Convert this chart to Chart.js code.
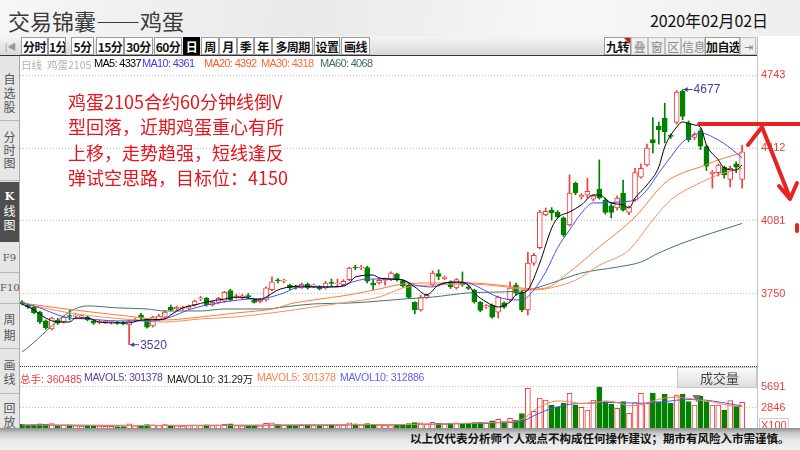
<!DOCTYPE html>
<html lang="zh">
<head>
<meta charset="UTF-8">
<title>交易锦囊——鸡蛋</title>
<script src="https://cdn.jsdelivr.net/npm/chart.js"></script>
<style>
  body {
    margin: 0; width: 800px; height: 450px; overflow: hidden; position: relative;
    font-family: "Liberation Sans", Arial, "Noto Sans CJK SC", sans-serif;
    background: linear-gradient(100deg, #f6f6f6 0%, #e9e9e9 35%, #f7f7f7 65%, #ebebeb 100%);
  }
  .abs { position: absolute; }
  #title { left: 8px; top: 4px; font: 22px "Noto Sans CJK SC", sans-serif; color: #3a3a3a; letter-spacing: 0px; }
  #date { left: 650px; top: 8px; font: 16px "Noto Sans CJK SC", sans-serif; color: #111; letter-spacing: -0.1px; }
  #toolbar { left: 0; top: 36px; width: 757px; height: 19px; background: linear-gradient(#f5f5f5, #d9d9d9); border-bottom: 1px solid #333; }
  .bt {
    position: absolute; top: 37px; height: 16px; line-height: 16px; background: #fff; box-sizing: content-box;
    border: 1px solid #9a9a9a; font: bold 12px "Noto Sans CJK SC", sans-serif; color: #111;
    text-align: center; letter-spacing: -0.6px; white-space: nowrap; overflow: hidden;
  }
  .bt.on { background: #000; color: #fff; border-color: #000; }
  .bt.dim { color: #8a8a8a; font-weight: normal; background: #f0f0f0; border-color: #c0c0c0; }
  #panel { left: 20px; top: 56px; width: 780px; height: 372px; background: #fff; }
  #axisLine { left: 757px; top: 36px; width: 1px; height: 392px; background: #c4c4c4; }
  #rightTop { left: 758px; top: 36px; width: 42px; height: 20px; background: #fff; }
  #side { left: 0; top: 56px; width: 19px; height: 372px; background: #e6e6e6; border-right: 1px solid #a8a8a8; }
  .sd { position: absolute; left: 0; width: 19px; text-align: center; font: 12px "Noto Sans CJK SC", sans-serif; line-height: 14px; color: #555; }
  .sl { position: absolute; left: 0; width: 19px; height: 1px; background: #b8b8b8; }
  canvas { position: absolute; }
  #priceChart { left: 20px; top: 58px; }
  #volChart { left: 20px; top: 380px; }
  .hd { position: absolute; font-size: 10.5px; white-space: nowrap; }
  .ma { font-size: 11px; letter-spacing: -0.7px; top: 57px; }
  #note { left: 68px; top: 89px; font: 18px "Noto Sans CJK SC", sans-serif; line-height: 25.3px; color: #e8141c; }
  #sep { left: 20px; top: 366px; width: 737px; border-top: 1px dotted #333; }
  #volBtn {
    left: 677px; top: 367px; width: 78px; height: 19px; border: 1px solid #c8c8c8;
    background: linear-gradient(#fbfbfb, #dedede); font: 13px "Noto Sans CJK SC", sans-serif; color: #444; line-height: 19px;
  }
  #x100 { left: 759px; top: 418px; font-size: 11px; color: #e8403c; border: 1px solid #d0d0d0; padding: 0 1px; line-height: 12px; }
  #foot { left: 0; top: 428px; width: 800px; height: 22px; background: linear-gradient(#8f8f8f 0px, #c9c9c9 5px, #e6e6e6 12px, #f2f2f2 22px); }
  #disclaimer { left: 410px; top: 430px; font: bold 11.5px "Noto Sans CJK SC", sans-serif; color: #111; white-space: nowrap; }
</style>
</head>
<body>
<div id="title" class="abs">交易锦囊——鸡蛋</div>
<div id="date" class="abs">2020年02月02日</div>

<div id="toolbar" class="abs"></div>
<div class="abs" style="left:5px;top:40px;font-size:9px;color:#999;">|◀</div>
<div class="bt" style="left:21px;width:25px;">分时</div>
<div class="bt" style="left:48px;width:16px;">1分</div>
<div class="bt" style="left:71px;width:21px;">5分</div>
<div class="bt" style="left:96px;width:26px;">15分</div>
<div class="bt" style="left:124px;width:27px;">30分</div>
<div class="bt" style="left:154px;width:26px;">60分</div>
<div class="bt on" style="left:183px;width:15px;">日</div>
<div class="bt" style="left:201px;width:16px;">周</div>
<div class="bt" style="left:219px;width:16px;">月</div>
<div class="bt" style="left:237px;width:15px;">季</div>
<div class="bt" style="left:254px;width:16px;">年</div>
<div class="bt" style="left:272px;width:39px;">多周期</div>
<div class="bt" style="left:314px;width:24px;">设置</div>
<div class="bt" style="left:341px;width:27px;">画线</div>

<div class="bt" style="left:604px;width:25px;">九转<i style="position:absolute;right:0;top:0;border-top:6px solid #e01010;border-left:6px solid transparent;"></i></div>
<div class="bt dim" style="left:631px;width:15px;">叠</div>
<div class="bt dim" style="left:648px;width:15px;">窗</div>
<div class="bt dim" style="left:665px;width:14px;">区</div>
<div class="bt dim" style="left:681px;width:22px;">信息</div>
<div class="bt" style="left:705px;width:33px;">加自选</div>
<div class="bt dim" style="left:740px;width:14px;font-size:11px;">⇥</div>

<div id="panel" class="abs"></div>
<div id="rightTop" class="abs"></div>
<div id="axisLine" class="abs"></div>

<div id="side" class="abs">
  <div class="sd" style="top:16px;">自<br>选<br>股</div>
  <div class="sl" style="top:64px;"></div>
  <div class="sd" style="top:74px;line-height:13px;">分<br>时<br>图</div>
  <div class="sl" style="top:124px;"></div>
  <div class="sd" style="top:126px;height:60px;background:#4e4e4e;color:#fff;padding-top:6px;box-sizing:border-box;"><b style="font-family:'DejaVu Serif',serif;font-size:11px;">K</b><br>线<br>图</div>
  <div class="sd" style="top:195px;font-family:'DejaVu Serif',serif;font-size:10px;">F9</div>
  <div class="sl" style="top:216px;"></div>
  <div class="sd" style="top:225px;font-family:'DejaVu Serif',serif;font-size:10px;">F10</div>
  <div class="sl" style="top:247px;"></div>
  <div class="sd" style="top:255px;line-height:16px;">周<br>期</div>
  <div class="sl" style="top:292px;"></div>
  <div class="sd" style="top:302px;">画<br>线</div>
  <div class="sl" style="top:337px;"></div>
  <div class="sd" style="top:345px;">回<br>放</div>
</div>

<canvas id="priceChart" width="780" height="305"></canvas>
<canvas id="volChart" width="780" height="49"></canvas>

<div class="hd" style="left:21px;top:57px;color:#b0b0b0;font-family:'Noto Sans CJK SC';">日线</div>
<div class="hd" style="left:47px;top:57px;color:#b0b0b0;font-family:'Noto Sans CJK SC';">鸡蛋2105</div>
<div class="hd ma" style="left:94px;color:#000;">MA5: 4337</div>
<div class="hd ma" style="left:142px;color:#3c3cff;">MA10: 4361</div>
<div class="hd ma" style="left:204px;color:#ff5a28;">MA20: 4392</div>
<div class="hd ma" style="left:261px;color:#ff6a32;">MA30: 4318</div>
<div class="hd ma" style="left:320px;color:#4a6a6a;">MA60: 4068</div>

<div id="note" class="abs">鸡蛋2105合约60分钟线倒V<br>型回落，近期鸡蛋重心有所<br>上移，走势趋强，短线逢反<br>弹试空思路，目标位：4150</div>

<div id="sep" class="abs"></div>
<div class="hd" style="left:20px;top:371px;color:#f03c3c;"><span style="font-family:'Noto Sans CJK SC';">总手</span>: 360485</div>
<div class="hd" style="left:84px;top:371px;color:#5a3c9a;letter-spacing:-0.3px;">MAVOL5: 301378</div>
<div class="hd" style="left:167px;top:371px;color:#222;letter-spacing:-0.3px;">MAVOL10: 31.29<span style="font-family:'Noto Sans CJK SC';">万</span></div>
<div class="hd" style="left:257px;top:371px;color:#ff8050;letter-spacing:-0.3px;">MAVOL5: 301378</div>
<div class="hd" style="left:340px;top:371px;color:#6060ff;letter-spacing:-0.3px;">MAVOL10: 312886</div>
<div id="volBtn" class="abs"><span style="margin-left:22px;">成交量</span><span style="margin-left:14px;font-size:9px;color:#777;">▼</span></div>
<div id="x100" class="abs">X100</div>

<div id="foot" class="abs"></div>
<div id="disclaimer" class="abs">以上仅代表分析师个人观点不构成任何操作建议；期市有风险入市需谨慎。</div>

<svg class="abs" style="left:0;top:0;" width="800" height="450">
  <g stroke="#e62222" stroke-width="4" stroke-linecap="round" stroke-linejoin="round" fill="none">
    <line x1="699" y1="124" x2="802" y2="124"/>
    <polyline points="748,145 762,127 790,198"/>
    <polyline points="779,186 790,199 797,183"/>
    <line x1="797" y1="225" x2="797" y2="231"/>
  </g>
</svg>

<script>
// daily candles, index 0 = leftmost
const opens = [3715,3700,3690,3668,3628,3592,3632,3623,3652,3650,3645,3645,3628,3620,3620,3622,3620,3620,3610,3630,
  3655,3636,3605,3632,3645,3690,3683,3685,3686,3700,3728,3730,3700,3712,3718,3766,3735,3732,3740,3722,
  3715,3723,3770,3812,3808,3790,3782,3780,3795,3786,3782,3778,3800,3796,3792,3815,3870,3868,3870,3800,
  3800,3812,3815,3840,3810,3790,3712,3678,3735,3792,3843,3820,3805,3778,3805,3782,3768,3712,3690,3700,
  3668,3710,3723,3790,3758,3678,3890,3960,4110,4130,4122,4095,4063,4253,4190,4198,4180,4226,4176,4150,
  4140,4208,4120,4176,4280,4335,4450,4510,4548,4470,4528,4670,4525,4460,4490,4418,4295,4300,4325,4270,
  4340,4270];
const closes = [3705,3690,3665,3623,3596,3641,3618,3645,3648,3652,3652,3632,3618,3625,3626,3622,3618,3614,3627,3632,
  3642,3600,3645,3650,3668,3678,3690,3686,3695,3718,3730,3700,3712,3730,3757,3723,3742,3742,3738,3712,
  3722,3778,3805,3810,3810,3777,3780,3795,3777,3786,3773,3800,3798,3798,3807,3868,3868,3870,3808,3790,
  3812,3812,3845,3814,3785,3735,3678,3736,3744,3845,3830,3826,3782,3815,3792,3775,3714,3676,3697,3645,
  3736,3690,3777,3754,3678,3890,3925,4122,4125,4118,4100,4018,4208,4208,4198,4215,4195,4186,4120,4120,
  4185,4130,4145,4300,4320,4412,4435,4495,4486,4465,4666,4555,4450,4475,4420,4330,4302,4335,4290,4320,
  4325,4395];
const highs = [3720,3705,3695,3672,3632,3645,3640,3650,3678,3660,3657,3650,3632,3630,3630,3628,3626,3625,3632,3640,
  3662,3640,3650,3658,3675,3700,3695,3695,3700,3723,3740,3735,3718,3735,3762,3772,3748,3748,3752,3728,
  3728,3782,3827,3820,3818,3795,3790,3800,3800,3795,3788,3808,3818,3818,3815,3872,3880,3880,3876,3815,
  3820,3822,3850,3845,3815,3795,3715,3745,3750,3855,3860,3832,3810,3820,3850,3788,3772,3716,3702,3705,
  3740,3715,3805,3800,3765,3940,3935,4130,4140,4142,4128,4100,4290,4258,4205,4275,4200,4358,4185,4160,
  4195,4267,4150,4320,4340,4430,4550,4530,4615,4475,4672,4677,4535,4482,4500,4425,4310,4340,4330,4330,
  4350,4425];
const lows = [3700,3685,3660,3615,3590,3587,3612,3618,3632,3642,3640,3628,3612,3615,3616,3614,3612,3610,3520,3623,
  3635,3595,3600,3628,3640,3673,3678,3678,3682,3695,3720,3695,3695,3705,3712,3718,3730,3728,3728,3708,
  3710,3718,3765,3800,3800,3770,3772,3775,3772,3778,3768,3772,3785,3785,3787,3810,3860,3860,3800,3768,
  3795,3790,3810,3808,3780,3730,3660,3672,3730,3785,3815,3815,3775,3772,3785,3770,3708,3670,3685,3640,
  3641,3685,3718,3745,3670,3655,3880,3955,4105,4085,4095,4010,4058,4200,4180,4185,4172,4180,4112,4095,
  4130,4125,4110,4170,4275,4330,4390,4430,4435,4455,4520,4540,4440,4450,4405,4310,4230,4285,4275,4235,
  4300,4230];
// volume in lots x100
const volumes = [620,540,600,700,650,720,480,520,560,430,400,450,420,380,360,350,330,340,700,420,
  450,600,560,480,610,520,430,400,450,520,480,560,460,500,620,700,480,440,470,420,
  430,760,820,600,540,520,480,500,530,450,470,560,520,480,560,840,700,560,720,640,
  560,520,480,640,560,720,880,820,700,900,780,700,760,820,700,760,880,920,780,1100,
  1300,1000,1450,1200,2100,5510,2400,4200,3930,3250,3020,3480,4830,3250,2940,2575,3930,5691,3700,3390,
  2800,3700,2120,3570,4830,3480,4830,3700,4700,3480,4600,4740,3700,3250,4470,3700,3250,3250,2575,3840,
  3120,3605];

// moving average lines: candle index / value
const ma5X = [0,2,4,6,8,9,11,13,16,18,20,24,25,27,29,31,34,36,38,40,41,43,45,47,49,51,54,55,56,59,60,62,64,66,68,70,73,75,76,78,80,82,83,84,85,87,89,90,92,94,96,97,99,101,102,103,105,107,108,110,111,113,114,115,117,118,120,121];
const ma5Y = [3705,3678,3641,3623,3623,3641,3641,3623,3619,3619,3632,3637,3655,3687,3700,3714,3727,3736,3732,3723,3736,3768,3782,3786,3782,3782,3786,3800,3827,3836,3823,3818,3813,3782,3746,3791,3804,3791,3755,3714,3691,3714,3746,3755,3768,3891,4049,4095,4122,4154,4199,4199,4163,4154,4140,4185,4244,4326,4417,4507,4530,4516,4507,4426,4358,4321,4312,4335];
const ma10X = [0,3,6,8,11,16,19,22,25,28,31,35,38,41,44,46,49,53,55,58,60,64,66,69,72,75,77,80,83,84,86,88,90,92,94,96,98,100,103,105,107,109,111,113,114,117,119,121];
const ma10Y = [3709,3687,3655,3641,3637,3628,3628,3628,3646,3678,3700,3718,3727,3732,3755,3777,3782,3782,3800,3818,3818,3813,3791,3782,3804,3800,3777,3736,3723,3723,3768,3850,3960,4040,4117,4163,4163,4167,4176,4222,4299,4371,4439,4471,4480,4448,4412,4367];
const ma20X = [0,8,19,24,30,36,43,45,49,55,60,64,69,75,80,86,88,92,97,103,108,111,114,117,121];
const ma20Y = [3709,3680,3646,3632,3646,3664,3687,3705,3723,3746,3773,3795,3800,3800,3791,3773,3777,3850,3963,4099,4253,4299,4326,4358,4390];
const ma30X = [0,8,19,24,30,36,43,49,55,60,64,69,75,80,86,88,93,97,102,106,109,114,117,121];
const ma30Y = [3709,3664,3632,3623,3637,3646,3668,3691,3714,3736,3777,3791,3795,3786,3768,3773,3813,3880,3950,4086,4176,4255,4290,4320];
const ma60X = [0,11,16,21,24,30,34,41,44,49,55,60,64,69,75,80,85,89,94,100,104,107,111,116,121];
const ma60Y = [3487,3696,3687,3682,3673,3673,3682,3682,3691,3705,3709,3718,3727,3736,3755,3759,3768,3800,3845,3872,3895,3936,3981,4027,4070];
const mv5X = [0,20,40,55,64,75,80,84,86,88,90,92,94,96,98,100,102,104,106,108,110,112,114,116,118,121];
const mv5Y = [560,470,520,600,600,780,900,1300,2500,3400,3800,3700,3450,3500,3800,3600,3150,3300,3800,4200,4300,4150,3900,3700,3300,3014];
const mv10X = [0,20,40,55,64,75,80,84,86,88,90,92,95,98,101,104,107,110,113,116,119,121];
const mv10Y = [540,480,500,560,600,740,850,1050,1800,2500,3000,3350,3500,3600,3550,3500,3600,3900,4000,3800,3400,3129];

const priceTicks = [3750, 4081, 4412, 4743];
const volTicks = [2846, 5691];

const RED = '#f23b3b';
const GREEN = '#008200';

Chart.defaults.font.family = '"Liberation Sans", Arial, sans-serif';
Chart.defaults.animation = false;

const upDay = closes.map((c, i) => c >= opens[i]);
const candleColor = upDay.map(u => u ? RED : GREEN);
const candleFill = upDay.map(u => u ? '#ffffff' : GREEN);

const xAxis = { type: 'linear', min: -0.34, max: 123.5, display: false, offset: false };

function rightAxis(tickValues, min, max) {
  return {
    position: 'right', min, max,
    afterBuildTicks: s => { s.ticks = tickValues.map(v => ({ value: v })); },
    afterFit: s => { s.width = 43; s.paddingTop = 0; s.paddingBottom = 0; },
    grid: { color: '#c0c0c0', drawTicks: false },
    border: { display: false, dash: [1, 2] },
    ticks: { color: '#e8403c', font: { size: 11 }, padding: 4, callback: v => String(v) }
  };
}

function line(xs, ys, color, order) {
  return {
    type: 'line', order,
    data: xs.map((x, k) => ({ x, y: ys[k] })),
    borderColor: color, borderWidth: 1, pointRadius: 0,
    cubicInterpolationMode: 'monotone'
  };
}

// arrow + value at the highest high and the lowest low
const extremaLabels = {
  id: 'extremaLabels',
  afterDatasetsDraw(chart) {
    const { ctx, scales: { x, y } } = chart;
    const hi = highs.indexOf(Math.max(...highs));
    const lo = lows.indexOf(Math.min(...lows));
    ctx.save();
    ctx.strokeStyle = ctx.fillStyle = '#4a3a96';
    ctx.lineWidth = 1;
    ctx.font = '12px "Liberation Sans", Arial';
    ctx.textBaseline = 'middle';
    [[hi, highs[hi]], [lo, lows[lo]]].forEach(([i, v]) => {
      const px = x.getPixelForValue(i), py = y.getPixelForValue(v);
      ctx.beginPath(); ctx.moveTo(px + 1, py); ctx.lineTo(px + 10, py); ctx.stroke();
      ctx.beginPath(); ctx.moveTo(px + 1, py); ctx.lineTo(px + 5, py - 2.5); ctx.lineTo(px + 5, py + 2.5); ctx.fill();
      ctx.fillText(String(v), px + 11, py + 0.5);
    });
    ctx.restore();
  }
};

const common = {
  responsive: false, animation: false, events: [],
  layout: { padding: 0 },
  plugins: { legend: { display: false }, tooltip: { enabled: false } }
};

new Chart(document.getElementById('priceChart'), {
  type: 'bar',
  data: {
    datasets: [
      line(ma5X, ma5Y, '#000000', 0),
      line(ma10X, ma10Y, '#4a4aff', 0),
      line(ma20X, ma20Y, '#ff7a30', 0),
      line(ma30X, ma30Y, '#f59060', 0),
      line(ma60X, ma60Y, '#3f7474', 0),
      {
        order: 1, grouped: false,
        data: opens.map((o, i) => ({ x: i, y: [o, closes[i]] })),
        backgroundColor: candleFill, borderColor: candleColor, borderWidth: 1,
        borderSkipped: false, barThickness: 5, minBarLength: 1
      },
      {
        order: 2, grouped: false,
        data: highs.map((h, i) => ({ x: i, y: [lows[i], h] })),
        backgroundColor: candleColor, borderWidth: 0, barThickness: 1
      }
    ]
  },
  options: {
    ...common,
    scales: { x: xAxis, y: rightAxis(priceTicks, 3437.1, 4820.1) }
  },
  plugins: [extremaLabels]
});

new Chart(document.getElementById('volChart'), {
  type: 'bar',
  data: {
    datasets: [
      line(mv5X, mv5Y, '#ff8040', 0),
      line(mv10X, mv10Y, '#5050ff', 0),
      {
        order: 1, grouped: false,
        data: volumes.map((v, i) => ({ x: i, y: v })),
        backgroundColor: candleFill, borderColor: candleColor, borderWidth: 1,
        borderSkipped: false, barThickness: 5
      }
    ]
  },
  options: {
    ...common,
    scales: { x: xAxis, y: rightAxis(volTicks, 0, 6638) }
  }
});
</script>
</body>
</html>
